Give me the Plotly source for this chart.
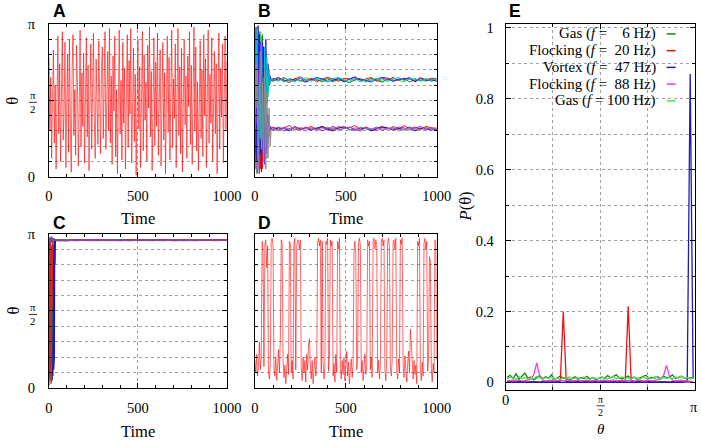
import math
import plotly.graph_objects as go

PI = math.pi
# Positions below are written in the pixel frame of the 701x440 picture.
# They are mapped to the page with the measured page->picture relation
# (picture = offset + scale * page), so the photographed figure lines up.
SCX, OFX = 0.974, 3.0
SCY, OFY = 0.966, 7.0
FW, FH = 716, 448
FS = 1.0 / 0.97          # font compensation

# ---------------- Panel A : theta (units of pi) vs time ----------------
A_TIME = list(range(0, 1001, 5))
A_THETA = [
    0.78, 0.30, 0.65, 0.12, 0.52, 0.83, 0.22, 0.60, 0.05, 0.45,
    0.92, 0.28, 0.74, 0.10, 0.58, 0.95, 0.24, 0.42, 0.88, 0.06,
    0.50, 0.80, 0.16, 0.90, 0.38, 0.03, 0.70, 0.93, 0.27, 0.57,
    0.14, 0.86, 0.62, 0.07, 0.44, 0.96, 0.20, 0.68, 0.33, 0.81,
    0.09, 0.55, 0.91, 0.26, 0.73, 0.04, 0.47, 0.87, 0.18, 0.64,
    0.94, 0.36, 0.12, 0.77, 0.52, 0.21, 0.89, 0.40, 0.15, 0.70,
    0.85, 0.25, 0.60, 0.95, 0.18, 0.48, 0.82, 0.30, 0.97, 0.22,
    0.66, 0.08, 0.79, 0.43, 0.92, 0.13, 0.57, 0.02, 0.74, 0.96,
    0.28, 0.63, 0.11, 0.88, 0.35, 0.71, 0.05, 0.50, 0.93, 0.19,
    0.76, 0.41, 0.97, 0.09, 0.59, 0.84, 0.23, 0.67, 0.01, 0.46,
    0.90, 0.31, 0.72, 0.06, 0.54, 0.95, 0.17, 0.80, 0.37, 0.62,
    0.10, 0.86, 0.45, 0.98, 0.26, 0.69, 0.04, 0.53, 0.91, 0.20,
    0.75, 0.33, 0.94, 0.14, 0.61, 0.83, 0.07, 0.49, 0.88, 0.24,
    0.68, 0.02, 0.57, 0.92, 0.29, 0.78, 0.11, 0.43, 0.96, 0.19,
    0.64, 0.38, 0.87, 0.06, 0.51, 0.97, 0.27, 0.72, 0.15, 0.84,
    0.03, 0.58, 0.90, 0.34, 0.66, 0.12, 0.79, 0.46, 0.95, 0.21,
    0.73, 0.08, 0.55, 0.98, 0.30, 0.85, 0.17, 0.62, 0.04, 0.49,
    0.89, 0.25, 0.70, 0.13, 0.93, 0.40, 0.77, 0.06, 0.60, 0.96,
    0.22, 0.67, 0.35, 0.91, 0.10, 0.56, 0.82, 0.28, 0.74, 0.02,
    0.50, 0.94, 0.18, 0.71, 0.39, 0.87, 0.09, 0.63, 0.92, 0.31,
    0.76,
]

# ---------------- Panel B : two flocks ----------------
B_TIME_EARLY = list(range(0, 91, 6))
B_TIME_LATE = list(range(100, 1001, 30))
B_U1_EARLY = [0.95, 0.10, 0.80, 0.30, 0.90, 0.05, 0.70, 0.20, 0.85, 0.40, 0.75, 0.50, 0.68, 0.60, 0.64, 0.63]
B_U1_LATE = [0.645, 0.630, 0.650, 0.625, 0.640, 0.655, 0.630, 0.645, 0.620, 0.640,
             0.650, 0.635, 0.625, 0.645, 0.640, 0.655, 0.630, 0.640, 0.650, 0.625,
             0.645, 0.635, 0.650, 0.630, 0.645, 0.640, 0.625, 0.650, 0.635, 0.645, 0.640]
B_U2_EARLY = [0.05, 0.90, 0.20, 0.85, 0.15, 0.95, 0.35, 0.80, 0.25, 0.70, 0.45, 0.72, 0.55, 0.66, 0.62, 0.64]
B_U2_LATE = [0.630, 0.645, 0.620, 0.640, 0.635, 0.625, 0.650, 0.630, 0.640, 0.620,
             0.635, 0.645, 0.630, 0.625, 0.640, 0.630, 0.645, 0.620, 0.635, 0.640,
             0.625, 0.630, 0.645, 0.635, 0.620, 0.640, 0.630, 0.635, 0.625, 0.640, 0.630]
B_U3_EARLY = [0.50, 0.98, 0.02, 0.75, 0.40, 0.88, 0.12, 0.93, 0.30, 0.58, 0.82, 0.48, 0.70, 0.60, 0.65, 0.63]
B_U3_LATE = [0.625, 0.640, 0.635, 0.615, 0.645, 0.630, 0.620, 0.640, 0.635, 0.625,
             0.645, 0.620, 0.640, 0.630, 0.615, 0.635, 0.640, 0.625, 0.645, 0.630,
             0.620, 0.640, 0.625, 0.635, 0.645, 0.620, 0.635, 0.630, 0.640, 0.625, 0.635]
B_U4_EARLY = [0.30, 0.70, 0.97, 0.08, 0.60, 0.25, 0.92, 0.45, 0.10, 0.85, 0.35, 0.78, 0.52, 0.70, 0.61, 0.64]
B_U4_LATE = [0.640, 0.625, 0.645, 0.635, 0.620, 0.650, 0.635, 0.625, 0.645, 0.630,
             0.620, 0.640, 0.650, 0.635, 0.625, 0.645, 0.620, 0.635, 0.630, 0.645,
             0.640, 0.625, 0.635, 0.650, 0.630, 0.640, 0.645, 0.625, 0.640, 0.630, 0.645]
B_U5_EARLY = [0.75, 0.15, 0.55, 0.99, 0.20, 0.65, 0.03, 0.88, 0.42, 0.18, 0.90, 0.56, 0.74, 0.62, 0.66, 0.63]
B_U5_LATE = [0.635, 0.650, 0.625, 0.640, 0.630, 0.645, 0.620, 0.635, 0.650, 0.640,
             0.625, 0.630, 0.645, 0.620, 0.640, 0.650, 0.635, 0.630, 0.620, 0.640,
             0.650, 0.645, 0.625, 0.640, 0.635, 0.650, 0.620, 0.645, 0.630, 0.635, 0.625]
B_L1_EARLY = [0.85, 0.05, 0.60, 0.25, 0.95, 0.40, 0.12, 0.78, 0.20, 0.55, 0.28, 0.45, 0.22, 0.36, 0.30, 0.32]
B_L1_LATE = [0.320, 0.305, 0.325, 0.310, 0.330, 0.315, 0.300, 0.320, 0.310, 0.325,
             0.305, 0.320, 0.315, 0.330, 0.305, 0.320, 0.310, 0.325, 0.315, 0.300,
             0.320, 0.310, 0.330, 0.315, 0.305, 0.325, 0.310, 0.320, 0.305, 0.315, 0.320]
B_L2_EARLY = [0.15, 0.92, 0.35, 0.70, 0.02, 0.88, 0.50, 0.18, 0.65, 0.08, 0.42, 0.15, 0.38, 0.26, 0.33, 0.31]
B_L2_LATE = [0.310, 0.325, 0.300, 0.315, 0.320, 0.305, 0.325, 0.310, 0.320, 0.300,
             0.315, 0.330, 0.305, 0.315, 0.325, 0.310, 0.300, 0.320, 0.310, 0.325,
             0.305, 0.315, 0.310, 0.325, 0.320, 0.305, 0.315, 0.330, 0.310, 0.320, 0.305]
B_L3_EARLY = [0.60, 0.30, 0.98, 0.10, 0.72, 0.22, 0.90, 0.05, 0.48, 0.35, 0.12, 0.40, 0.28, 0.34, 0.30, 0.32]
B_L3_LATE = [0.325, 0.310, 0.320, 0.335, 0.305, 0.320, 0.315, 0.330, 0.310, 0.325,
             0.320, 0.305, 0.330, 0.315, 0.320, 0.335, 0.310, 0.325, 0.305, 0.320,
             0.330, 0.315, 0.320, 0.310, 0.335, 0.315, 0.325, 0.310, 0.330, 0.320, 0.315]
B_L4_EARLY = [0.40, 0.80, 0.10, 0.58, 0.93, 0.15, 0.68, 0.38, 0.85, 0.20, 0.50, 0.24, 0.40, 0.29, 0.33, 0.31]
B_L4_LATE = [0.305, 0.320, 0.315, 0.300, 0.325, 0.310, 0.320, 0.305, 0.315, 0.330,
             0.310, 0.300, 0.320, 0.325, 0.310, 0.305, 0.320, 0.315, 0.300, 0.310,
             0.325, 0.320, 0.305, 0.315, 0.310, 0.325, 0.300, 0.315, 0.320, 0.305, 0.310]
B_L5_EARLY = [0.98, 0.45, 0.75, 0.05, 0.50, 0.82, 0.18, 0.62, 0.10, 0.70, 0.05, 0.55, 0.12, 0.45, 0.20, 0.31]
B_L5_LATE = [0.315, 0.300, 0.320, 0.310, 0.325, 0.305, 0.315, 0.320, 0.300, 0.310,
             0.325, 0.315, 0.305, 0.320, 0.310, 0.300, 0.325, 0.315, 0.310, 0.320,
             0.305, 0.315, 0.325, 0.300, 0.310, 0.320, 0.315, 0.305, 0.325, 0.310, 0.315]

# ---------------- Panel C : vortex ----------------
C_TIME_EARLY = list(range(0, 37, 2))
C_TIME_LATE = list(range(40, 1001, 60))
C_RED_EARLY = [0.02, 0.97, 0.04, 0.96, 0.08, 0.93, 0.03, 0.90, 0.50, 0.96, 0.955, 0.96, 0.96, 0.955, 0.96, 0.96, 0.96, 0.955, 0.96]
C_GREEN_EARLY = [0.50, 0.10, 0.90, 0.05, 0.96, 0.15, 0.92, 0.04, 0.88, 0.12, 0.94, 0.96, 0.96, 0.955, 0.96, 0.955, 0.96, 0.96, 0.96]
C_GRAY_EARLY = [0.90, 0.96, 0.85, 0.97, 0.93, 0.98, 0.95, 0.97, 0.96, 0.98, 0.94, 0.97, 0.96, 0.955, 0.96, 0.97, 0.96, 0.955, 0.96]
C_CYAN_EARLY = [0.97, 0.93, 0.98, 0.95, 0.97, 0.96, 0.94, 0.98, 0.95, 0.97, 0.96, 0.95, 0.97, 0.96, 0.955, 0.96, 0.96, 0.96, 0.96]
C_BLUE_EARLY = [0.96, 0.30, 0.85, 0.08, 0.97, 0.06, 0.94, 0.10, 0.92, 0.05, 0.95, 0.08, 0.93, 0.12, 0.90, 0.20, 0.96, 0.80, 0.96]
C_PURPLE_EARLY = [0.96, 0.955, 0.97, 0.96, 0.95, 0.96, 0.955, 0.96, 0.97, 0.96, 0.95, 0.96, 0.955, 0.96, 0.96, 0.955, 0.96, 0.96, 0.96]
C_RED_LATE = [0.958, 0.955, 0.960, 0.956, 0.959, 0.957, 0.955, 0.960, 0.958, 0.956, 0.959, 0.957, 0.960, 0.955, 0.958, 0.957, 0.959]
C_GREEN_LATE = [0.957, 0.959, 0.956, 0.958, 0.955, 0.959, 0.957, 0.956, 0.960, 0.957, 0.955, 0.958, 0.956, 0.959, 0.957, 0.955, 0.958]
C_GRAY_LATE = [0.959, 0.956, 0.958, 0.955, 0.957, 0.960, 0.956, 0.958, 0.955, 0.959, 0.957, 0.956, 0.958, 0.960, 0.956, 0.958, 0.957]
C_CYAN_LATE = [0.956, 0.958, 0.957, 0.959, 0.956, 0.955, 0.958, 0.959, 0.957, 0.955, 0.958, 0.960, 0.957, 0.956, 0.959, 0.956, 0.958]
C_BLUE_LATE = [0.957, 0.955, 0.959, 0.957, 0.958, 0.956, 0.959, 0.957, 0.956, 0.958, 0.960, 0.955, 0.957, 0.958, 0.956, 0.959, 0.957]
C_PURPLE_LATE = [0.958, 0.957, 0.955, 0.959, 0.957, 0.958, 0.956, 0.955, 0.959, 0.957, 0.956, 0.959, 0.955, 0.957, 0.960, 0.957, 0.956]

# ---------------- Panel D : intermittent ----------------
D_TIME = list(range(0, 1001, 5))
D_THETA = [
    0.18, 0.10, 0.22, 0.08, 0.15, 0.30, 0.12, 0.20, 0.95, 0.90,
    0.14, 0.93, 0.96, 0.78, 0.92, 0.10, 0.06, 0.16, 0.95, 0.97,
    0.92, 0.12, 0.08, 0.20, 0.05, 0.14, 0.25, 0.10, 0.32, 0.96,
    0.94, 0.18, 0.07, 0.15, 0.03, 0.12, 0.22, 0.09, 0.95, 0.93,
    0.10, 0.18, 0.06, 0.94, 0.97, 0.12, 0.92, 0.96, 0.95, 0.90,
    0.96, 0.14, 0.05, 0.20, 0.10, 0.18, 0.04, 0.22, 0.12, 0.28,
    0.32, 0.15, 0.06, 0.18, 0.03, 0.12, 0.20, 0.08, 0.15, 0.94,
    0.97, 0.92, 0.96, 0.10, 0.95, 0.18, 0.06, 0.14, 0.95, 0.93,
    0.97, 0.11, 0.20, 0.96, 0.92, 0.95, 0.08, 0.16, 0.04, 0.22,
    0.10, 0.95, 0.90, 0.97, 0.13, 0.06, 0.18, 0.09, 0.20, 0.05,
    0.14, 0.24, 0.08, 0.17, 0.03, 0.12, 0.19, 0.07, 0.15, 0.88,
    0.95, 0.86, 0.12, 0.20, 0.94, 0.97, 0.92, 0.10, 0.18, 0.05,
    0.16, 0.22, 0.09, 0.14, 0.96, 0.92, 0.95, 0.12, 0.20, 0.07,
    0.95, 0.97, 0.90, 0.96, 0.93, 0.10, 0.18, 0.06, 0.15, 0.95,
    0.97, 0.92, 0.96, 0.12, 0.05, 0.20, 0.94, 0.97, 0.91, 0.14,
    0.08, 0.18, 0.95, 0.96, 0.90, 0.97, 0.11, 0.06, 0.19, 0.10,
    0.96, 0.93, 0.97, 0.15, 0.07, 0.21, 0.12, 0.04, 0.16, 0.24,
    0.10, 0.38, 0.30, 0.14, 0.06, 0.18, 0.09, 0.15, 0.03, 0.95,
    0.92, 0.97, 0.12, 0.05, 0.17, 0.08, 0.94, 0.97, 0.90, 0.95,
    0.11, 0.20, 0.85, 0.82, 0.13, 0.04, 0.16, 0.10, 0.96, 0.93,
    0.18,
]

# ---------------- Panel E : P(theta), 64 bins over [0, pi] ----------------
E_NBINS = 64
E_THETA = [(k + 0.5) * PI / E_NBINS for k in range(E_NBINS)]
E_GAS6 = [0.014, 0.020, 0.011, 0.024, 0.009, 0.017, 0.026, 0.012,
          0.015, 0.007, 0.013, 0.019, 0.010, 0.016, 0.012, 0.021,
          0.008, 0.014, 0.018, 0.011, 0.013, 0.007, 0.012, 0.016,
          0.009, 0.013, 0.011, 0.017, 0.010, 0.014, 0.008, 0.012,
          0.015, 0.011, 0.019, 0.013, 0.016, 0.021, 0.012, 0.010,
          0.014, 0.018, 0.011, 0.015, 0.009, 0.013, 0.017, 0.020,
          0.011, 0.014, 0.012, 0.016, 0.010, 0.018, 0.013, 0.015,
          0.021, 0.011, 0.014, 0.017, 0.012, 0.010, 0.013, 0.011]
E_FLOCK20 = [0.002, 0.001, 0.002, 0.001, 0.002, 0.001, 0.002, 0.001,
             0.002, 0.001, 0.002, 0.001, 0.002, 0.001, 0.002, 0.001,
             0.002, 0.001, 0.003, 0.200, 0.004, 0.001, 0.002, 0.001,
             0.002, 0.001, 0.002, 0.001, 0.002, 0.001, 0.002, 0.001,
             0.002, 0.001, 0.002, 0.001, 0.002, 0.001, 0.002, 0.001,
             0.004, 0.215, 0.003, 0.001, 0.002, 0.001, 0.002, 0.001,
             0.002, 0.001, 0.002, 0.001, 0.002, 0.001, 0.002, 0.001,
             0.002, 0.001, 0.002, 0.001, 0.002, 0.001, 0.002, 0.001]
E_VORTEX47 = [0.001, 0.000, 0.001, 0.000, 0.001, 0.000, 0.001, 0.000,
              0.001, 0.000, 0.001, 0.000, 0.001, 0.000, 0.001, 0.000,
              0.001, 0.000, 0.001, 0.000, 0.001, 0.000, 0.001, 0.000,
              0.001, 0.000, 0.001, 0.000, 0.001, 0.000, 0.001, 0.000,
              0.001, 0.000, 0.001, 0.000, 0.001, 0.000, 0.001, 0.000,
              0.001, 0.000, 0.001, 0.000, 0.001, 0.000, 0.001, 0.000,
              0.001, 0.000, 0.001, 0.000, 0.001, 0.000, 0.001, 0.000,
              0.001, 0.000, 0.001, 0.000, 0.001, 0.004, 0.870, 0.010]
E_FLOCK88 = [0.006, 0.004, 0.007, 0.005, 0.006, 0.004, 0.005, 0.007,
             0.008, 0.022, 0.055, 0.018, 0.006, 0.004, 0.005, 0.006,
             0.004, 0.005, 0.006, 0.004, 0.005, 0.007, 0.004, 0.005,
             0.006, 0.004, 0.005, 0.006, 0.004, 0.005, 0.006, 0.004,
             0.005, 0.006, 0.004, 0.005, 0.007, 0.004, 0.005, 0.006,
             0.004, 0.005, 0.006, 0.004, 0.005, 0.006, 0.004, 0.005,
             0.006, 0.004, 0.005, 0.007, 0.008, 0.020, 0.048, 0.016,
             0.006, 0.004, 0.005, 0.006, 0.004, 0.005, 0.003, 0.002]
E_GAS100 = [0.010, 0.015, 0.012, 0.008, 0.016, 0.011, 0.013, 0.009,
            0.014, 0.010, 0.017, 0.012, 0.009, 0.013, 0.011, 0.015,
            0.010, 0.012, 0.008, 0.014, 0.011, 0.016, 0.009, 0.012,
            0.013, 0.010, 0.015, 0.011, 0.008, 0.013, 0.012, 0.010,
            0.014, 0.011, 0.009, 0.013, 0.016, 0.010, 0.012, 0.015,
            0.011, 0.013, 0.010, 0.014, 0.012, 0.009, 0.015, 0.011,
            0.013, 0.010, 0.016, 0.012, 0.009, 0.014, 0.011, 0.013,
            0.010, 0.015, 0.012, 0.018, 0.011, 0.013, 0.009, 0.012]
E_LEGEND = ["Gas (<i>f</i> =\u2007\u20076 Hz)",
            "Flocking (<i>f</i> =\u200720 Hz)",
            "Vortex (<i>f</i> =\u200747 Hz)",
            "Flocking (<i>f</i> =\u200788 Hz)",
            "Gas (<i>f</i> = 100 Hz)"]

TIME_TICKS = [0, 500, 1000]
TIME_TICKTEXT = ["0", "500", "1000"]
THETA_TICKS = [0, PI / 2, PI]
THETA_TICKTEXT = ["0", "", "π"]      # the pi/2 label is drawn as a stacked fraction below
E_THETA_TICKTEXT = ["0", "", ""]     # pi/2 and pi labels of panel E drawn as annotations
P_TICKS = [0, 0.2, 0.4, 0.6, 0.8, 1.0]
P_TICKTEXT = ["0", "0.2", "0.4", "0.6", "0.8", "1"]

# ---------------- styling ----------------
SERIF = "Liberation Serif"
GRIDC = "#a0a0a0"


def px(x):
    return ((x - OFX) / SCX) / FW


def py(y):
    return 1 - ((y - OFY) / SCY) / FH


def xdom(a, b):
    return [px(a), px(b)]


def ydom(top, bottom):
    return [py(bottom), py(top)]


def base_axis():
    return dict(showline=True, linecolor="black", linewidth=1, mirror="allticks",
                ticks="inside", ticklen=5, tickcolor="black", tickwidth=1,
                tickfont=dict(family=SERIF, size=14.5, color="black"),
                zeroline=False, showgrid=True, gridcolor=GRIDC, griddash="dot",
                gridwidth=1, layer="above traces")


def time_axis(dom, anchor):
    d = base_axis()
    d.update(domain=dom, anchor=anchor, range=[0, 1000], tickmode="array",
             tickvals=TIME_TICKS, ticktext=TIME_TICKTEXT, ticklabelstandoff=6,
             minor=dict(tickmode="linear", tick0=0, dtick=100, ticks="inside",
                        ticklen=3, tickcolor="black", showgrid=False))
    return d


def theta_axis(dom, anchor, labels):
    d = base_axis()
    d.update(domain=dom, anchor=anchor, range=[0, PI], tickmode="array",
             tickvals=THETA_TICKS, ticktext=THETA_TICKTEXT, showticklabels=labels,
             ticklabelstandoff=10,
             minor=dict(tickmode="linear", tick0=0, dtick=PI / 10, ticks="inside",
                        ticklen=3, tickcolor="black", showgrid=True, gridcolor=GRIDC,
                        griddash="dot", gridwidth=1))
    return d


fig = go.Figure()


def line(x, y, xa, ya, color, width=1.0):
    fig.add_trace(go.Scatter(x=x, y=y, xaxis=xa, yaxis=ya, mode="lines",
                             line=dict(color=color, width=width), showlegend=False,
                             hoverinfo="skip"))


to_rad = lambda vals: [v * PI for v in vals]

# Panel A
line(A_TIME, to_rad(A_THETA), "x", "y", "#ff0000", 0.6)

# Panel B
B_TIME = B_TIME_EARLY + B_TIME_LATE
B_TRACES = [
    (B_U2_EARLY, B_U2_LATE, "#33dd33"),
    (B_U3_EARLY, B_U3_LATE, "#1a7a1a"),
    (B_L1_EARLY, B_L1_LATE, "#ee33ee"),
    (B_L3_EARLY, B_L3_LATE, "#ee1c1c"),
    (B_U1_EARLY, B_U1_LATE, "#ff1010"),
    (B_L4_EARLY, B_L4_LATE, "#1010c0"),
    (B_U5_EARLY, B_U5_LATE, "#2020ff"),
    (B_L2_EARLY, B_L2_LATE, "#8a2be2"),
    (B_U4_EARLY, B_U4_LATE, "#00c8c8"),
    (B_L5_EARLY, B_L5_LATE, "#8c8c8c"),
]
for early, late, col in B_TRACES:
    line(B_TIME, to_rad(early + late), "x2", "y2", col, 1.0)

# Panel C
C_TIME = C_TIME_EARLY + C_TIME_LATE
C_TRACES = [
    (C_GRAY_EARLY, C_GRAY_LATE, "#8c8c8c"),
    (C_CYAN_EARLY, C_CYAN_LATE, "#20a0a0"),
    (C_BLUE_EARLY, C_BLUE_LATE, "#1515cc"),
    (C_GREEN_EARLY, C_GREEN_LATE, "#2a9a2a"),
    (C_RED_EARLY, C_RED_LATE, "#e02020"),
    (C_PURPLE_EARLY, C_PURPLE_LATE, "#9040b0"),
]
for early, late, col in C_TRACES:
    line(C_TIME, to_rad(early + late), "x3", "y3", col, 1.3)

# Panel D
line(D_TIME, to_rad(D_THETA), "x4", "y4", "#ff0000", 0.6)

# Panel E
E_SERIES = [E_GAS6, E_FLOCK20, E_VORTEX47, E_FLOCK88, E_GAS100]
E_COLORS = ["#138a13", "#ee1111", "#1c1cb4", "#f03cf0", "#4fe04f"]
for vals, col in zip(E_SERIES, E_COLORS):
    line(E_THETA, vals, "x5", "y5", col, 1.3)

TOP = ydom(23, 176)
BOT = ydom(233, 388)
LEFT = xdom(48, 226)
MID = xdom(254, 436)

e_x = base_axis()
e_x.update(domain=xdom(505, 694), anchor="y5", range=[0, PI], tickmode="array",
           tickvals=THETA_TICKS, ticktext=E_THETA_TICKTEXT, ticklabelstandoff=-4,
           minor=dict(tickmode="linear", tick0=0, dtick=PI / 4, ticks="inside",
                      ticklen=3, tickcolor="black", showgrid=True, gridcolor=GRIDC,
                      griddash="dot", gridwidth=1))
e_y = base_axis()
e_y.update(domain=ydom(23, 390), anchor="x5", range=[-0.0225, 1.0113], tickmode="array",
           tickvals=P_TICKS, ticktext=P_TICKTEXT, ticklabelstandoff=8,
           minor=dict(tickmode="linear", tick0=0, dtick=0.1, ticks="inside",
                      ticklen=3, tickcolor="black", showgrid=True, gridcolor=GRIDC,
                      griddash="dot", gridwidth=1))

fig.update_layout(
    width=FW, height=FH, autosize=False, margin=dict(l=0, r=0, t=0, b=0),
    paper_bgcolor="white", plot_bgcolor="white", showlegend=False,
    xaxis=time_axis(LEFT, "y"), yaxis=theta_axis(TOP, "x", True),
    xaxis2=time_axis(MID, "y2"), yaxis2=theta_axis(TOP, "x2", False),
    xaxis3=time_axis(LEFT, "y3"), yaxis3=theta_axis(BOT, "x3", True),
    xaxis4=time_axis(MID, "y4"), yaxis4=theta_axis(BOT, "x4", False),
    xaxis5=e_x, yaxis5=e_y,
)

ann = []
shapes = []


def txt(x, y, s, size=16, family=SERIF, bold=False, angle=0, xanchor="center"):
    ann.append(dict(x=px(x), y=py(y), xref="paper", yref="paper", text=(f"<b>{s}</b>" if bold else s),
                    showarrow=False, xanchor=xanchor, yanchor="middle", textangle=angle,
                    font=dict(family=family, size=size * FS, color="black")))


def frac(xc, yc, size=10.5):
    # stacked "pi over 2" tick label (one text) with a fraction bar
    txt(xc, yc, "π<br>2", size=size)
    shapes.append(dict(type="line", xref="paper", yref="paper", x0=px(xc - 4), x1=px(xc + 4),
                       y0=py(yc), y1=py(yc), line=dict(color="black", width=0.8)))


for lab, x, y in [("A", 50, 10), ("B", 255, 10), ("C", 50, 222), ("D", 255, 222), ("E", 506, 10)]:
    txt(x, y, lab, size=17, family="Liberation Sans", bold=True, xanchor="left")
txt(137, 218, "Time")
txt(345, 218, "Time")
txt(137, 431, "Time")
txt(345, 431, "Time")
txt(12, 100, "θ", angle=-90)
txt(12, 310, "θ", angle=-90)
txt(465, 206, "<i>P</i>(θ)", angle=-90)
txt(600, 429, "<i>θ</i>", size=14.5)
frac(32, 101.5)
frac(32, 314)
frac(600, 405.5, size=9.5)
txt(693, 407, "π", size=14)

# legend block for panel E
shapes.append(dict(type="rect", xref="paper", yref="paper", x0=px(506), x1=px(681),
                   y0=py(108), y1=py(24), fillcolor="white", line=dict(width=0),
                   layer="between"))
for i, (label, col) in enumerate(zip(E_LEGEND, E_COLORS)):
    yy = 33 + i * 16.75
    txt(657, yy, label, size=14.5, xanchor="right")
    shapes.append(dict(type="line", xref="paper", yref="paper", x0=px(666), x1=px(675),
                       y0=py(yy), y1=py(yy), line=dict(color=col, width=1.5)))

fig.update_layout(annotations=ann, shapes=shapes)
fig.write_html("out.html",
               config={"responsive": False, "displayModeBar": False},
               post_script="document.body.style.margin='0';document.body.style.overflow='hidden';")
